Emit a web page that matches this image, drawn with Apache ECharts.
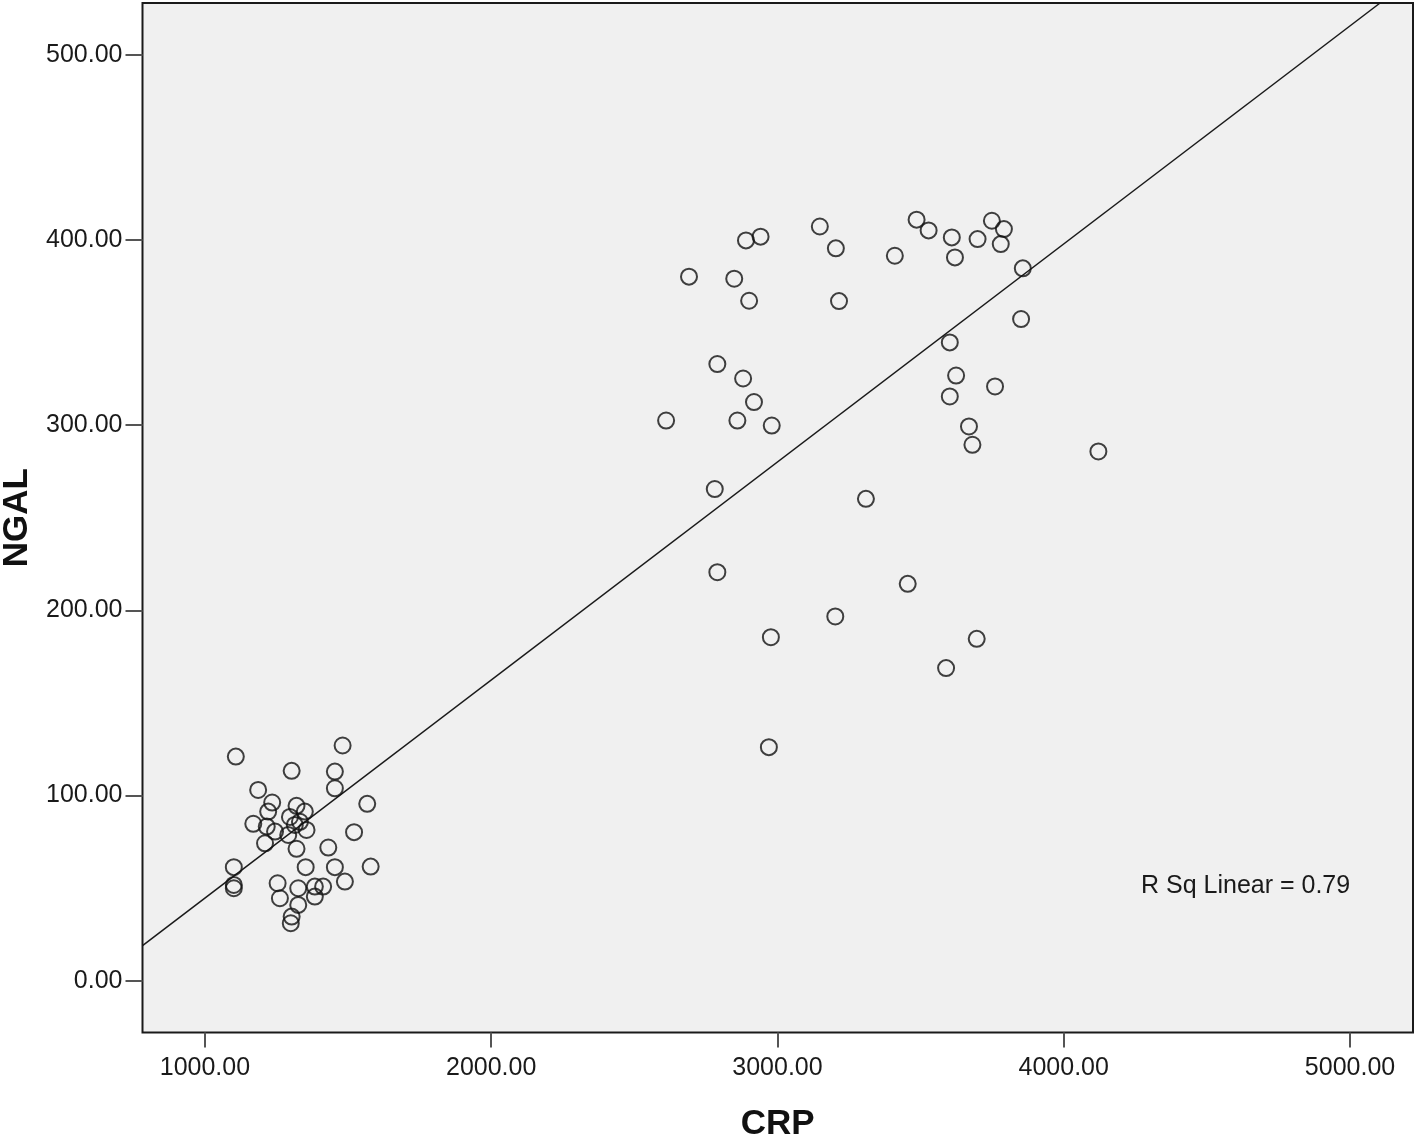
<!DOCTYPE html>
<html>
<head>
<meta charset="utf-8">
<script src="https://cdn.jsdelivr.net/npm/echarts@6/dist/echarts.min.js"></script>
<style>
  html, body { margin: 0; padding: 0; background: #ffffff; }
  #chart { width: 1418px; height: 1138px; }
</style>
</head>
<body>
<div id="chart"></div>
<script>
// CRP (x) values of the points
const crp = [
  2691, 2849, 2890, 2941, 2901, 3148, 3204, 3215, 2790, 2880, 2918, 2611, 2860, 2980,
  3410, 3486, 3528, 3609, 3620, 3699, 3749, 3791, 3780, 3857, 3851, 3602, 3624, 3760,
  3602, 3669, 3681, 4121, 2781, 3309, 2790, 3455, 3202, 2977, 3696, 3589, 2970,
  1108, 1481, 1303, 1454, 1454, 1186, 1567, 1235, 1320, 1349, 1221, 1169, 1216, 1314,
  1355, 1245, 1291, 1521, 1210, 1320, 1431, 1101, 1352, 1454, 1579, 1489, 1101, 1101,
  1254, 1262, 1326, 1384, 1413, 1384, 1326, 1303, 1300, 1297, 1332
];
// NGAL (y) values of the points
const ngal = [
  380.2, 379.1, 399.8, 401.8, 367.2, 407.3, 395.5, 367.0, 333.0, 325.2, 312.5, 302.5, 302.5, 299.8,
  391.5, 411.0, 405.2, 401.4, 390.6, 400.5, 410.4, 405.9, 397.8, 384.7, 357.3, 344.7, 326.8, 320.9,
  315.5, 299.3, 289.4, 285.8, 265.5, 260.2, 220.6, 214.3, 196.7, 185.5, 184.6, 168.8, 126.1,
  121.0, 127.0, 113.3, 112.9, 103.9, 103.0, 95.5, 96.2, 94.4, 91.3, 91.3, 84.7, 83.2, 84.1,
  81.4, 80.5, 78.7, 80.2, 74.2, 71.2, 71.9, 61.3, 61.3, 61.3, 61.6, 53.5, 51.7, 49.9,
  52.6, 44.5, 49.9, 50.8, 50.8, 45.4, 40.9, 34.6, 31.0, 88.4, 85.8
];
// Fit line end points
const fitX = [782, 5105];
const fitY = [18.9, 528];
// Tick values
const xTicks = [1000, 2000, 3000, 4000, 5000];
const yTicks = [0, 100, 200, 300, 400, 500];
const rSqText = 'R Sq Linear = 0.79';

const points = crp.map((x, i) => [x, ngal[i]]);
const fitLine = fitX.map((x, i) => [x, fitY[i]]);

const chart = echarts.init(document.getElementById('chart'));
const labelFont = { fontFamily: 'Liberation Sans, Arial, sans-serif', fontSize: 25, color: '#1a1a1a' };
chart.setOption({
  animation: false,
  backgroundColor: '#ffffff',
  grid: {
    left: 142.5, top: 3, right: 5, bottom: 105.5,
    containLabel: false,
    outerBoundsMode: 'none',
    show: true,
    backgroundColor: '#f0f0f0',
    borderColor: '#1a1a1a',
    borderWidth: 2
  },
  xAxis: {
    type: 'value',
    min: 782, max: 5220,
    name: 'CRP',
    nameLocation: 'middle',
    nameGap: 74,
    nameTextStyle: { fontFamily: 'Liberation Sans, Arial, sans-serif', fontSize: 35, fontWeight: 'bold', color: '#111' },
    axisLine: { show: false, onZero: false },
    splitLine: { show: false },
    axisTick: { show: true, inside: false, length: 15, lineStyle: { color: '#555', width: 2 }, customValues: xTicks },
    axisLabel: Object.assign({ margin: 23, customValues: xTicks, formatter: v => Number(v).toFixed(2) }, labelFont)
  },
  yAxis: {
    type: 'value',
    min: -28, max: 528,
    name: 'NGAL',
    nameLocation: 'middle',
    nameGap: 102,
    nameTextStyle: { fontFamily: 'Liberation Sans, Arial, sans-serif', fontSize: 35, fontWeight: 'bold', color: '#111' },
    axisLine: { show: false, onZero: false },
    splitLine: { show: false },
    axisTick: { show: true, inside: false, length: 17, lineStyle: { color: '#555', width: 2 }, customValues: yTicks },
    axisLabel: Object.assign({ margin: 20, customValues: yTicks, formatter: v => Number(v).toFixed(2) }, labelFont)
  },
  series: [
    {
      type: 'line',
      data: fitLine,
      symbol: 'none',
      lineStyle: { color: '#1a1a1a', width: 1.5 },
      clip: true,
      z: 2
    },
    {
      type: 'scatter',
      data: points,
      symbol: 'circle',
      symbolSize: 16,
      itemStyle: { color: 'rgba(0,0,0,0)', borderColor: '#111', borderWidth: 2 },
      z: 3
    }
  ],
  graphic: [
    {
      type: 'text',
      left: 1141,
      top: 874,
      style: { text: rSqText, fontFamily: 'Liberation Sans, Arial, sans-serif', fontSize: 25, fill: '#1a1a1a' },
      z: 10
    }
  ]
});
</script>
</body>
</html>
